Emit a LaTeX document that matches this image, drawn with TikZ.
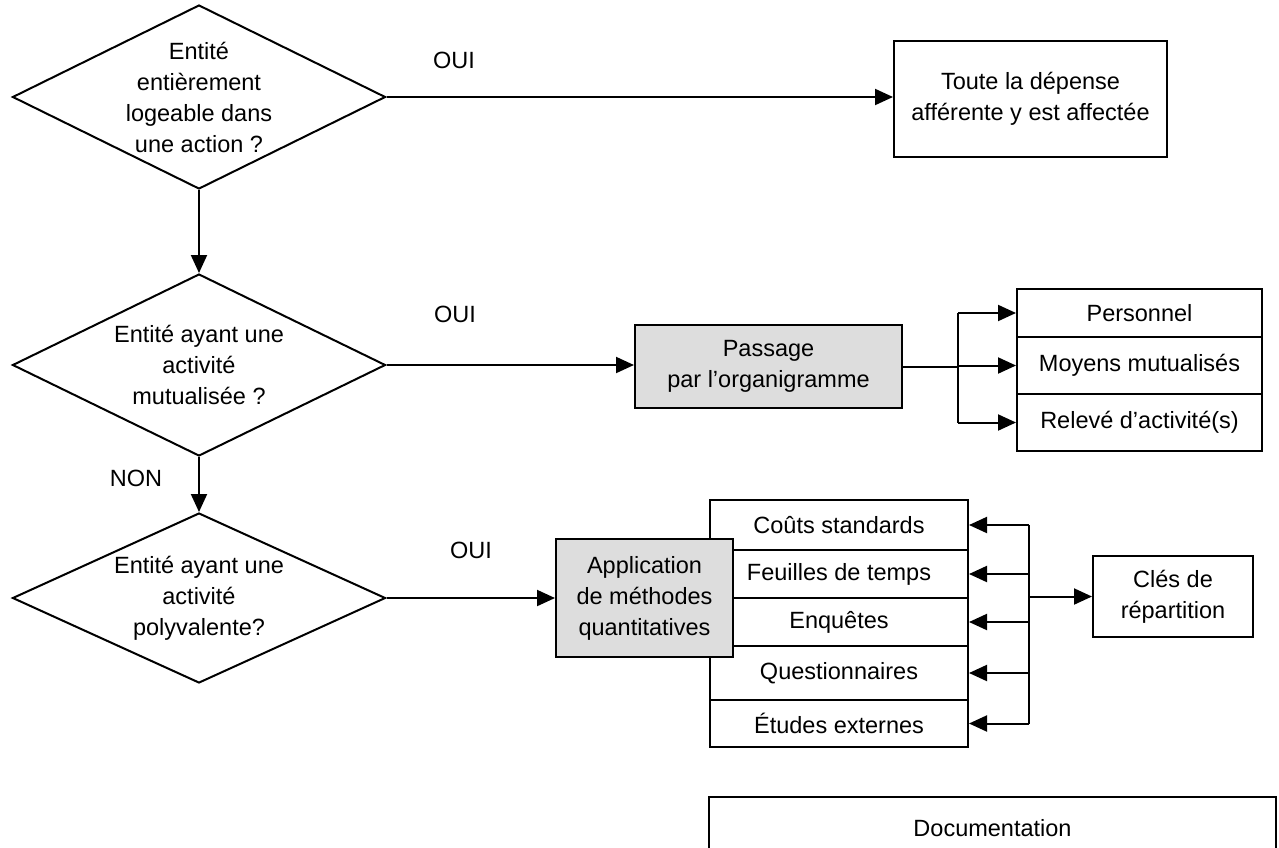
\documentclass[tikz,border=0pt]{standalone}
\usepackage{fontspec}
\setmainfont{Liberation Sans}
\usetikzlibrary{shapes.geometric,arrows.meta}
\definecolor{boxgray}{RGB}{221,221,221}
\begin{document}
\begin{tikzpicture}[x=1pt,y=-1pt,
  every node/.style={font=\fontsize{23.5}{31}\selectfont},
  line width=2pt,
  decision/.style={draw, shape=diamond, inner sep=0pt},
  qtext/.style={align=center, inner sep=0pt},
  plainbox/.style={draw, rectangle, align=center, inner sep=0pt},
  graybox/.style={plainbox, fill=boxgray},
  arr/.style={-{Triangle[length=18pt,width=16pt]}},
]
\useasboundingbox (0,0) rectangle (1279,847);
\clip (0,0) rectangle (1279,847);

% decisions
\node[decision, minimum width=373pt, minimum height=184pt] (d1) at (199,97) {};
\node[qtext] (t1) at (d1.center) {Entité\\entièrement\\logeable dans\\une action ?};
\node[decision, minimum width=373pt, minimum height=182pt] (d2) at (199,365) {};
\node[qtext] (t2) at (d2.center) {Entité ayant une\\activité\\mutualisée ?};
\node[decision, minimum width=373pt, minimum height=170pt] (d3) at (199,598) {};
\node[qtext] (t3) at (d3.center) {Entité ayant une\\activité\\polyvalente?};

% outcomes
\node[plainbox, minimum width=273pt, minimum height=116pt] (toute) at (1030.5,99)
  {Toute la dépense\\afférente y est affectée};
\node[graybox, minimum width=267pt, minimum height=83pt] (pas) at (768.5,366.5)
  {Passage\\par l’organigramme};

% mutualised resources
\node[plainbox, minimum width=245pt, minimum height=48pt] (r1) at (1139.5,313) {Personnel};
\node[plainbox, minimum width=245pt, minimum height=57pt] (r2) at (1139.5,365.5) {Moyens mutualisés};
\node[plainbox, minimum width=245pt, minimum height=57pt] (r3) at (1139.5,422.5) {Relevé d’activité(s)};

% quantitative methods
\node[plainbox, minimum width=258pt, minimum height=50pt] (s1) at (839,525) {Coûts standards};
\node[plainbox, minimum width=258pt, minimum height=48pt] (s2) at (839,574) {Feuilles de temps};
\node[plainbox, minimum width=258pt, minimum height=48pt] (s3) at (839,622) {Enquêtes};
\node[plainbox, minimum width=258pt, minimum height=54pt] (s4) at (839,673) {Questionnaires};
\node[plainbox, minimum width=258pt, minimum height=47pt] (s5) at (839,723.5) {Études externes};
\node[graybox, minimum width=177pt, minimum height=118pt] (app) at (644.5,598)
  {Application\\de méthodes\\quantitatives};
\node[plainbox, minimum width=160pt, minimum height=81pt] (cle) at (1173,596.5) {Clés de\\répartition};

\node[plainbox, minimum width=567pt, minimum height=62pt] (doc) at (992.5,828) {Documentation};

% branch labels
\node (oui1) at (454,60) {OUI};
\node (oui2) at (455,314) {OUI};
\node (oui3) at (471,550) {OUI};
\node (non) at (136,478) {NON};

% connectors
\draw[arr] (d1.east) -- (d1.east -| toute.west);
\draw[arr] (d1.south) -- (d2.north);
\draw[arr] (d2.south) -- (d3.north);
\draw[arr] (d2.east) -- (d2.east -| pas.west);
\draw[arr] (d3.east) -- (d3.east -| app.west);

\coordinate (br1) at (958,366);
\draw (pas.east) -- (br1 |- pas.east);
\draw (br1 |- r1.west) -- (br1 |- r3.west);
\foreach \r in {r1,r2,r3} \draw[arr] (br1 |- \r.west) -- (\r.west);

\coordinate (bus) at (1029,597);
\draw (bus |- s1.east) -- (bus |- s5.east);
\foreach \s in {s1,s2,s3,s4,s5} \draw[arr] (bus |- \s.east) -- (\s.east);
\draw[arr] (bus |- cle.west) -- (cle.west);
\end{tikzpicture}
\end{document}
